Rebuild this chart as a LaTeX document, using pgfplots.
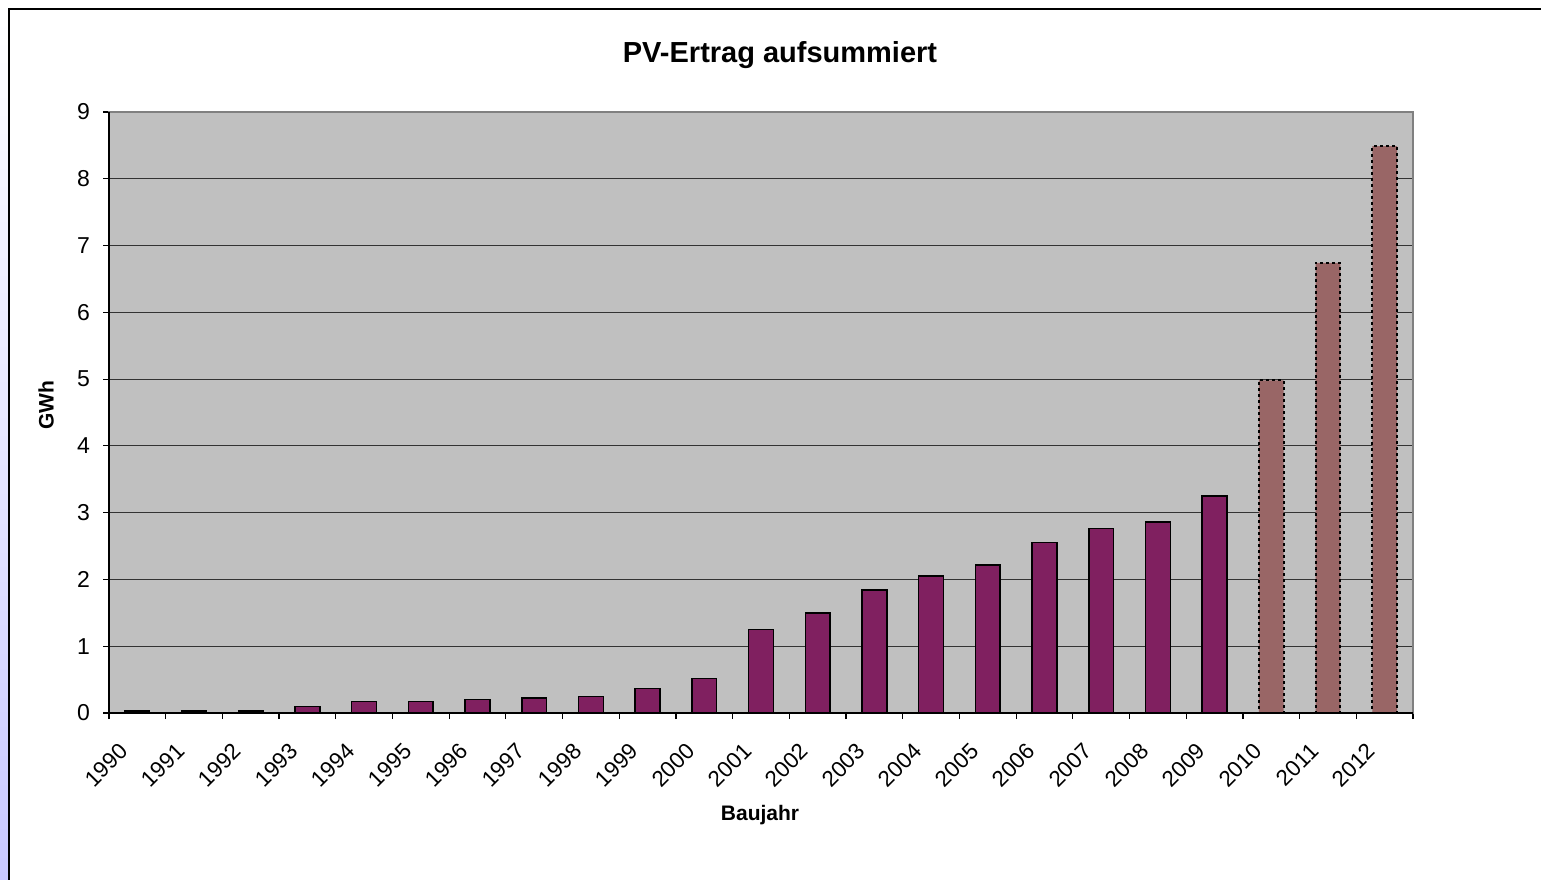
\documentclass[border=0pt]{standalone}
\usepackage{pgfplots}
\pgfplotsset{compat=1.18}
\usepackage{fontspec}
\setmainfont{Liberation Sans}
\definecolor{barpurple}{RGB}{128,32,96}
\definecolor{barbrown}{RGB}{153,102,102}
\definecolor{plotgray}{RGB}{192,192,192}
\definecolor{lav}{RGB}{200,200,255}
\begin{document}
\begin{tikzpicture}
\useasboundingbox (0,0) rectangle (770.5pt,439.5pt);
\shade[top color=white, bottom color=lav, middle color=lav!45] (0,0) rectangle (4pt,439.5pt);
\fill[white] (4.5pt,0) rectangle (770.5pt,435pt);
\begin{axis}[
  at={(54.5pt,83pt)}, anchor=south west,
  scale only axis, width=652pt, height=300.5pt,
  xmin=-0.5, xmax=22.5, ymin=0, ymax=9,
  ybar, bar width=12.4pt,
  axis background/.style={fill=plotgray},
  axis line style={draw=gray, line width=0.7pt},
  xtick={0,...,22},
  xticklabels={1990,1991,1992,1993,1994,1995,1996,1997,1998,1999,2000,2001,2002,2003,2004,2005,2006,2007,2008,2009,2010,2011,2012},
  major x tick style={draw=none},
  minor xtick={-0.5,0.5,...,22.5},
  minor tick length=3pt,
  ytick={0,1,...,9},
  major tick length=3pt,
  tick align=outside,
  xtick pos=bottom, ytick pos=left,
  tick style={black, line width=0.6pt},
  ymajorgrids,
  grid style={draw=black!80, line width=0.6pt},
  xticklabel style={xshift=-9.5pt, yshift=-6.5pt, rotate=45, anchor=north east, font=\fontsize{11.2}{13}\selectfont},
  yticklabel style={font=\fontsize{11.5}{13}\selectfont, xshift=-3pt},
  /pgf/number format/assume math mode=true,
  clip=false,
]
\addplot[fill=barpurple, draw=black, line width=0.75pt, bar shift=0pt] coordinates {
(0,0.03) (1,0.03) (2,0.03) (3,0.095) (4,0.17) (5,0.17) (6,0.205) (7,0.225) (8,0.25) (9,0.37) (10,0.52)
(11,1.25) (12,1.50) (13,1.84) (14,2.05) (15,2.22) (16,2.55) (17,2.76) (18,2.86) (19,3.25)
};
\addplot[fill=barbrown, draw=black, line width=1pt, dash pattern=on 1.5pt off 1.5pt, bar shift=0pt] coordinates {
(20,4.98) (21,6.74) (22,8.49)
};
\draw[black, line width=0.7pt] (axis cs:-0.5,9) -- (axis cs:-0.5,0) -- (axis cs:22.5,0);
\end{axis}
\draw[black, line width=1pt] (4.5pt,-5pt) -- (4.5pt,435pt) -- (780pt,435pt);
\node[font=\bfseries\fontsize{14.5}{16}\selectfont] at (390pt,412pt) {PV-Ertrag aufsummiert};
\node[font=\bfseries\fontsize{10.5}{12}\selectfont, rotate=90] at (23pt,237pt) {GWh};
\node[font=\bfseries\fontsize{10.5}{12}\selectfont] at (380pt,32pt) {Baujahr};
\end{tikzpicture}
\end{document}
